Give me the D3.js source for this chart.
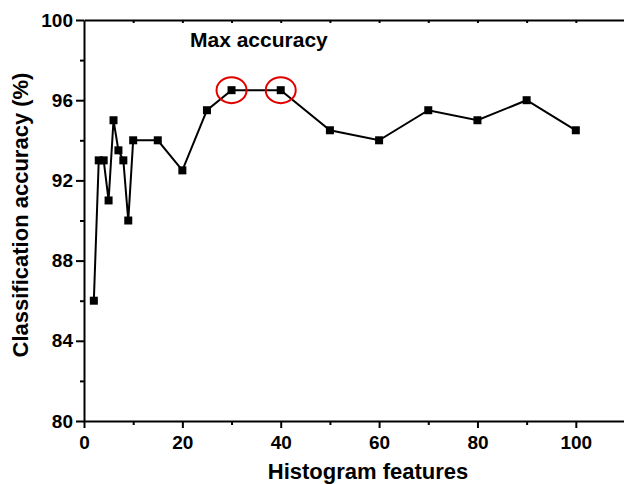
<!DOCTYPE html>
<html>
<head>
<meta charset="utf-8">
<script src="https://cdn.jsdelivr.net/npm/d3@7"></script>
<style>
  body { margin: 0; background: #fff; }
  svg { display: block; font-family: "Liberation Sans", Arial, sans-serif; }
  .tick text { font-weight: bold; font-size: 19px; fill: #000; }
  .axisText { font-weight: bold; font-size: 22px; fill: #000; }
</style>
</head>
<body>
<div id="chart"></div>
<script>
// histogram feature counts and accuracies
var features = [2, 3, 4, 5, 6, 7, 8, 9, 10, 15, 20, 25, 30, 40, 50, 60, 70, 80, 90, 100];
var accuracy = [86, 93, 93, 91, 95, 93.5, 93, 90, 94, 94, 92.5, 95.5, 96.5, 96.5, 94.5, 94, 95.5, 95, 96, 94.5];
var maxFeatures = [30, 40];
var yTicks = [80, 84, 88, 92, 96, 100];
var xTicks = [0, 20, 40, 60, 80, 100];

var svgWidth = 624;
var svgHeight = 484;

var margin = { top: 20, right: 0, bottom: 63, left: 84 };
var width = 541;
var height = svgHeight - margin.top - margin.bottom;

var svg = d3.select("#chart")
  .append("svg")
  .attr("width", svgWidth)
  .attr("height", svgHeight);

var chartGroup = svg.append("g")
  .attr("transform", `translate(${margin.left}, ${margin.top})`);

var data = features.map(function(f, i) {
  return { x: f, y: accuracy[i] };
});

var xLinearScale = d3.scaleLinear()
  .domain([0, 110])
  .range([0, width]);

var yLinearScale = d3.scaleLinear()
  .domain([80, 100])
  .range([height, 0]);

// minor ticks first
chartGroup.append("g")
  .attr("transform", `translate(0, ${height})`)
  .call(d3.axisBottom(xLinearScale).tickValues(d3.range(10, 110, 20)).tickSize(4).tickFormat(""))
  .call(g => g.select(".domain").remove());

chartGroup.append("g")
  .call(d3.axisLeft(yLinearScale).tickValues(d3.range(82, 100, 4)).tickSize(4).tickFormat(""))
  .call(g => g.select(".domain").remove());

// top frame with inward ticks
chartGroup.append("g")
  .call(d3.axisTop(xLinearScale).tickValues(d3.range(10, 110, 10)).tickSize(-3).tickSizeOuter(0).tickFormat(""));

var bottomAxis = d3.axisBottom(xLinearScale).tickValues(xTicks).tickSize(7).tickSizeOuter(0).tickPadding(8);
var leftAxis = d3.axisLeft(yLinearScale).tickValues(yTicks).tickSize(8).tickSizeOuter(0).tickPadding(3);

chartGroup.append("g")
  .attr("transform", `translate(0, ${height})`)
  .call(bottomAxis);

chartGroup.append("g")
  .call(leftAxis);

chartGroup.selectAll(".domain, .tick line")
  .attr("stroke", "#000")
  .attr("stroke-width", 2);

var line = d3.line()
  .x(d => xLinearScale(d.x))
  .y(d => yLinearScale(d.y));

chartGroup.append("path")
  .datum(data)
  .attr("d", line)
  .attr("fill", "none")
  .attr("stroke", "#000")
  .attr("stroke-width", 2);

chartGroup.selectAll(".pt")
  .data(data)
  .enter()
  .append("rect")
  .attr("class", "pt")
  .attr("x", d => xLinearScale(d.x) - 4)
  .attr("y", d => yLinearScale(d.y) - 4)
  .attr("width", 8)
  .attr("height", 8)
  .attr("fill", "#000");

chartGroup.selectAll(".maxRing")
  .data(data.filter(d => maxFeatures.indexOf(d.x) >= 0))
  .enter()
  .append("ellipse")
  .attr("class", "maxRing")
  .attr("cx", d => xLinearScale(d.x))
  .attr("cy", d => yLinearScale(d.y))
  .attr("rx", 15)
  .attr("ry", 13)
  .attr("fill", "none")
  .attr("stroke", "#e00000")
  .attr("stroke-width", 2);

chartGroup.append("text")
  .attr("x", 106)
  .attr("y", 27)
  .attr("class", "axisText")
  .style("font-size", "21px")
  .text("Max accuracy");

chartGroup.append("text")
  .attr("transform", "rotate(-90)")
  .attr("y", -56)
  .attr("x", -195)
  .attr("text-anchor", "middle")
  .attr("class", "axisText")
  .text("Classification accuracy (%)");

chartGroup.append("text")
  .attr("transform", `translate(${284}, ${height + 58})`)
  .attr("text-anchor", "middle")
  .attr("class", "axisText")
  .text("Histogram features");
</script>
</body>
</html>
